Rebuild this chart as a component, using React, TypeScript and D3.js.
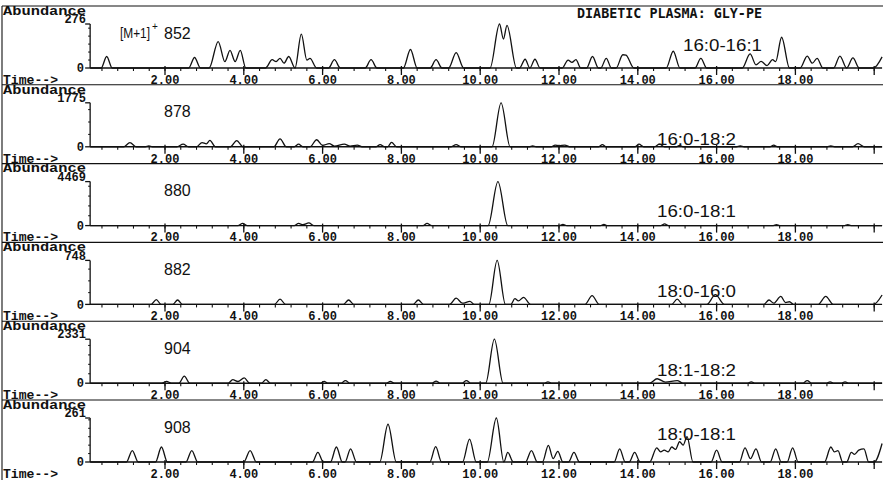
import * as d3 from 'd3';

// chromatogram traces, [time (min), abundance] vertices
const trace852 = [[0.1,0],[0.38,0],[0.52,72],[0.66,0],[2.6,0],[2.75,66],[2.9,0],[3.12,0],[3.35,166],[3.52,40],[3.65,110],[3.78,40],[3.91,110],[4.05,0],[4.55,0],[4.72,52],[4.82,40],[4.92,61],[5.02,30],[5.14,72],[5.3,0],[5.46,212],[5.6,50],[5.68,60],[5.85,0],[6.15,0],[6.3,52],[6.45,0],[7.08,0],[7.23,52],[7.38,0],[8.05,0],[8.23,116],[8.4,0],[8.73,0],[8.88,52],[9.03,0],[9.2,0],[9.39,97],[9.58,0],[10.25,0],[10.49,276],[10.59,182],[10.68,268],[10.92,0],[11.0,0],[11.14,55],[11.26,0],[11.39,55],[11.52,0],[12.08,0],[12.23,50],[12.33,35],[12.43,52],[12.55,0],[12.7,0],[12.85,72],[13.0,0],[13.06,0],[13.2,61],[13.33,0],[13.45,0],[13.62,83],[13.7,80],[13.9,0],[14.72,0],[14.9,105],[15.07,0],[15.45,0],[15.6,61],[15.75,0],[16.65,0],[16.85,88],[17.0,20],[17.13,41],[17.28,15],[17.42,52],[17.5,40],[17.65,193],[17.85,0],[18.12,0],[18.3,75],[18.43,30],[18.55,61],[18.7,0],[18.97,0],[19.13,75],[19.3,0],[19.46,63],[19.62,0],[19.98,0],[20.2,70]];
const trace878 = [[0.1,0],[0.95,0],[1.11,170],[1.27,0],[1.5,0],[1.59,35],[1.68,0],[2.3,0],[2.46,105],[2.6,0],[2.8,0],[2.94,170],[3.05,120],[3.14,260],[3.28,0],[3.66,0],[3.82,250],[3.98,0],[4.76,0],[4.92,320],[5.08,0],[5.28,0],[5.39,105],[5.5,0],[5.68,0],[5.85,285],[6.0,60],[6.17,125],[6.3,30],[6.55,105],[6.7,30],[6.88,70],[7.0,0],[7.35,0],[7.46,90],[7.58,0],[7.65,0],[7.75,175],[7.88,0],[9.25,0],[9.39,90],[9.52,0],[10.3,0],[10.53,1775],[10.76,0],[11.25,0],[11.33,35],[11.42,0],[11.8,0],[11.9,70],[12.0,40],[12.15,70],[12.27,0],[13.0,0],[13.1,90],[13.2,0],[13.93,0],[14.03,105],[14.15,0],[14.42,0],[14.55,105],[14.68,0],[14.98,0],[15.06,55],[15.15,0],[16.5,0],[16.6,35],[16.7,0],[17.35,0],[17.45,70],[17.55,0],[18.8,0],[18.9,35],[19.0,0],[19.45,0],[19.59,125],[19.75,0],[20.2,0]];
const trace880 = [[0.1,0],[3.85,0],[3.97,220],[4.09,0],[5.28,0],[5.39,220],[5.5,100],[5.65,270],[5.78,0],[8.55,0],[8.65,220],[8.77,0],[10.2,0],[10.45,4469],[10.7,0],[12.0,0],[12.1,130],[12.2,0],[13.05,0],[13.14,130],[13.23,0],[14.58,0],[14.68,180],[14.78,0],[17.44,0],[17.52,90],[17.6,0],[19.25,0],[19.33,90],[19.41,0],[20.2,0]];
const trace882 = [[0.1,0],[1.65,0],[1.78,82],[1.9,0],[2.2,0],[2.32,75],[2.44,0],[4.78,0],[4.92,90],[5.06,0],[6.53,0],[6.66,75],[6.79,0],[8.3,0],[8.43,75],[8.56,0],[9.22,0],[9.39,105],[9.55,20],[9.74,52],[9.85,0],[10.22,0],[10.43,748],[10.64,0],[10.78,0],[10.88,97],[10.97,60],[11.1,120],[11.28,0],[12.66,0],[12.84,150],[13.02,0],[14.86,0],[15.0,90],[15.14,0],[15.75,0],[15.97,165],[16.2,0],[17.2,0],[17.33,75],[17.45,20],[17.63,135],[17.75,30],[17.85,45],[17.95,0],[18.58,0],[18.77,135],[18.96,0],[19.98,0],[20.2,160]];
const trace904 = [[0.1,0],[1.92,0],[2.04,95],[2.16,0],[2.35,0],[2.49,370],[2.63,0],[3.6,0],[3.72,185],[3.85,90],[4.01,280],[4.15,0],[4.45,0],[4.56,185],[4.68,0],[5.95,0],[6.04,95],[6.13,0],[6.46,0],[6.58,140],[6.7,0],[7.62,0],[7.72,95],[7.82,0],[8.78,0],[8.88,115],[8.98,0],[9.53,0],[9.65,140],[9.77,0],[10.14,0],[10.36,2331],[10.58,0],[11.62,0],[11.72,70],[11.82,0],[14.3,0],[14.49,235],[14.7,60],[15.0,140],[15.15,0],[16.78,0],[16.88,70],[16.98,0],[18.18,0],[18.3,140],[18.42,0],[18.78,0],[18.88,70],[18.98,0],[19.16,0],[19.26,70],[19.36,0],[20.2,0]];
const trace908 = [[0.1,0],[1.02,0],[1.17,68],[1.32,0],[1.76,0],[1.91,89],[2.06,0],[2.53,0],[2.68,68],[2.83,0],[4.0,0],[4.16,68],[4.32,0],[5.74,0],[5.88,57],[6.02,0],[6.2,0],[6.35,89],[6.5,0],[6.57,0],[6.71,78],[6.86,0],[7.45,0],[7.66,224],[7.87,0],[8.72,0],[8.87,91],[9.02,0],[9.55,0],[9.73,136],[9.9,0],[10.18,0],[10.41,261],[10.6,0],[10.7,57],[10.84,0],[11.15,0],[11.3,68],[11.45,0],[11.58,0],[11.73,99],[11.85,20],[11.97,63],[12.1,0],[12.24,0],[12.38,57],[12.52,0],[13.4,0],[13.54,78],[13.68,0],[13.78,0],[13.92,57],[14.06,0],[14.3,0],[14.48,84],[14.58,60],[14.67,70],[14.77,60],[14.86,89],[14.96,75],[15.06,120],[15.15,100],[15.25,151],[15.4,0],[15.86,0],[16.0,70],[16.14,0],[16.58,0],[16.72,84],[16.86,20],[17.0,78],[17.14,0],[17.36,0],[17.5,78],[17.64,0],[17.79,0],[17.93,84],[18.07,0],[18.74,0],[18.9,89],[18.99,60],[19.08,68],[19.2,0],[19.3,0],[19.42,57],[19.5,45],[19.61,70],[19.74,78],[19.86,0],[20.0,0],[20.2,110]];

const traces = [trace852, trace878, trace880, trace882, trace904, trace908];
const masses = ['852', '878', '880', '882', '904', '908'];
const maxAbundance = [276, 1775, 4469, 748, 2331, 261];
const lipids = ['16:0-16:1', '16:0-18:2', '16:0-18:1', '18:0-16:0', '18:1-18:2', '18:0-18:1'];
const lipidOffsets = [23, 7, 14, 13, 13, 28]; // px above baseline
const timeLabels = [2, 4, 6, 8, 10, 12, 14, 16, 18];

const W = 883;
const H = 480;
const FIRST_BASE = 68;
const STEP = 78.8;
const AXIS_H = 44;
const MONO = "'Liberation Mono', 'DejaVu Sans Mono', monospace";
const SANS = "'Liberation Sans', Arial, sans-serif";
const INK = '#111';

const x = d3.scaleLinear().domain([0, 20]).range([86.2, 874.2]);
const minorTicks = d3.range(1, 51).map((i) => +(i * 0.4).toFixed(1)).filter((t) => t <= 20.2);
const majorTicks = d3.range(2, 21, 2);

const Panel = ({i}) => {
  const base = FIRST_BASE + STEP * i;
  const y = d3.scaleLinear().domain([0, maxAbundance[i]]).range([base, base - AXIS_H]);
  const line = d3.line().x((d) => x(d[0])).y((d) => y(d[1])).curve(d3.curveMonotoneX);
  const yTicks = y.ticks(5).filter((v) => v > 0);
  const x0 = x(0.1);
  const x1 = x(20.2);

  return (
    <g>
      {/* separator / frame line above the panel */}
      <line x1={2} x2={W} y1={base - 62} y2={base - 62} stroke={INK} strokeWidth={1.1} />
      <text x={3} y={base - 57.5} dy="0.35em" fontFamily={MONO} fontWeight="bold" fontSize={12.5}
        textLength={83} lengthAdjust="spacingAndGlyphs" fill={INK}>Abundance</text>
      <text x={86} y={base - 49} dy="0.35em" textAnchor="end" fontFamily={MONO} fontWeight="bold"
        fontSize={12} fill={INK}>{maxAbundance[i]}</text>
      <text x={84} y={base} dy="0.35em" textAnchor="end" fontFamily={MONO} fontWeight="bold"
        fontSize={12} fill={INK}>0</text>

      {/* y axis */}
      <line x1={x0} x2={x0} y1={y(maxAbundance[i])} y2={base} stroke={INK} strokeWidth={1.3} />
      <line x1={x0 - 5} x2={x0} y1={y(maxAbundance[i])} y2={y(maxAbundance[i])} stroke={INK} strokeWidth={1.3} />
      {yTicks.map((v) => (
        <line key={v} x1={x0 - 2} x2={x0} y1={y(v)} y2={y(v)} stroke={INK} strokeWidth={1} />
      ))}
      <line x1={x0 - 5} x2={x0} y1={base} y2={base} stroke={INK} strokeWidth={1.3} />

      {/* x axis */}
      <line x1={x0} x2={x1} y1={base} y2={base} stroke={INK} strokeWidth={1.4} />
      {minorTicks.map((t) => (
        <line key={'m' + t} x1={x(t)} x2={x(t)} y1={base} y2={base + 3} stroke={INK} strokeWidth={1.1} />
      ))}
      {majorTicks.map((t) => (
        <line key={'M' + t} x1={x(t)} x2={x(t)} y1={base - 2} y2={base + 7} stroke={INK} strokeWidth={1.3} />
      ))}
      <text x={3} y={base + 11.5} dy="0.35em" fontFamily={MONO} fontWeight="bold" fontSize={12}
        textLength={55} lengthAdjust="spacingAndGlyphs" fill={INK}>{'Time-->'}</text>
      {timeLabels.map((t) => (
        <text key={'l' + t} x={x(t)} y={base + 11.5} dy="0.35em" textAnchor="middle" fontFamily={MONO}
          fontWeight="bold" fontSize={12} fill={INK}>{t.toFixed(2)}</text>
      ))}

      {/* trace */}
      <path d={line(traces[i])} fill="none" stroke={INK} strokeWidth={1.3} strokeLinejoin="round" />

      {/* labels */}
      {i === 0 && (
        <g>
          <text x={120} y={base - 35} dy="0.35em" fontFamily={SANS} fontSize={15.5}
            textLength={30} lengthAdjust="spacingAndGlyphs" fill={INK}>[M+1]</text>
          <text x={152} y={base - 42} dy="0.35em" fontFamily={SANS} fontSize={10} fill={INK}>+</text>
        </g>
      )}
      <text x={164} y={base - 35} dy="0.35em" fontFamily={SANS} fontSize={16} fill={INK}>{masses[i]}</text>
      <text x={i === 0 ? 683 : 657} y={base - lipidOffsets[i]} dy="0.35em" fontFamily={SANS} fontSize={16}
        textLength={79} lengthAdjust="spacingAndGlyphs" fill={INK}>{lipids[i]}</text>
    </g>
  );
};

export default function App() {
  return (
    <svg width={W} height={H} style={{position: 'absolute', left: 0, top: 0, background: '#fff'}}>
      <rect width={W} height={H} fill="#fff" />
      {traces.map((_, i) => <Panel key={i} i={i} />)}
      <line x1={2} x2={2} y1={6} y2={H} stroke={INK} strokeWidth={1.1} />
      <text x={577} y={13.5} dy="0.35em" fontFamily="'DejaVu Sans Mono', monospace" fontWeight="bold" fontSize={14}
        textLength={185} lengthAdjust="spacingAndGlyphs" fill={INK}>DIABETIC PLASMA: GLY-PE</text>
    </svg>
  );
}
